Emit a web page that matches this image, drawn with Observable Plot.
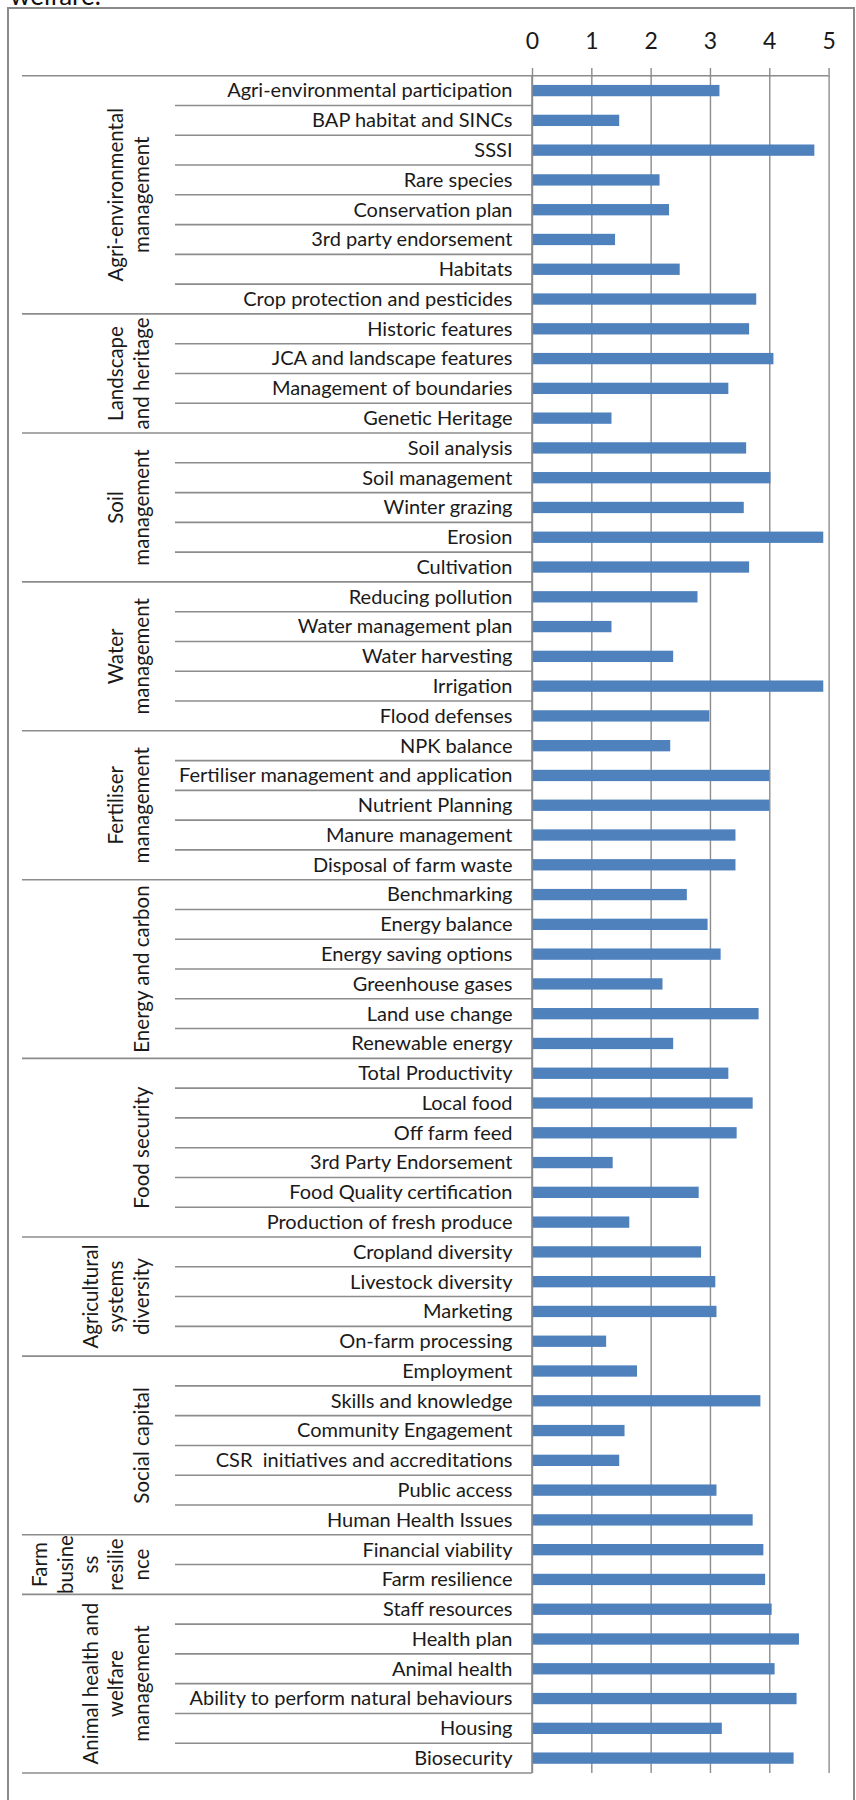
<!DOCTYPE html>
<html>
<head>
<meta charset="utf-8">
<script src="https://cdn.jsdelivr.net/npm/d3@7"></script>
<script src="https://cdn.jsdelivr.net/npm/@observablehq/plot@0.6"></script>
<style>
html, body { margin: 0; padding: 0; background: #fff; overflow: hidden; }
#page { position: relative; width: 856px; height: 1800px; overflow: hidden; }
#lead { position: absolute; left: 10px; top: -18px; font: 26px Lato, sans-serif; line-height: 26px; color: #111; white-space: nowrap; }
#frame { position: absolute; left: 7px; top: 7px; width: 848px; height: 1900px; border: 2.5px solid #8a8a8a; box-sizing: border-box; }
#chart { position: absolute; left: 0; top: 0; }
</style>
</head>
<body>
<div id="page">
  <div id="lead">welfare.</div>
  <div id="frame"></div>
  <div id="chart"></div>
</div>
<script>
// ---- data ----
const groupLabels = [
  ["Agri-environmental", "management"],
  ["Landscape", "and heritage"],
  ["Soil", "management"],
  ["Water", "management"],
  ["Fertiliser", "management"],
  ["Energy and carbon"],
  ["Food security"],
  ["Agricultural", "systems", "diversity"],
  ["Social capital"],
  ["Farm", "busine", "ss", "resilie", "nce"],
  ["Animal health and", "welfare", "management"]
];
const groupSizes = [8, 4, 5, 5, 5, 6, 6, 4, 6, 2, 6];

const items = [
  "Agri-environmental participation", "BAP habitat and SINCs", "SSSI", "Rare species",
  "Conservation plan", "3rd party endorsement", "Habitats", "Crop protection and pesticides",
  "Historic features", "JCA and landscape features", "Management of boundaries", "Genetic Heritage",
  "Soil analysis", "Soil management", "Winter grazing", "Erosion", "Cultivation",
  "Reducing pollution", "Water management plan", "Water harvesting", "Irrigation", "Flood defenses",
  "NPK balance", "Fertiliser management and application", "Nutrient Planning", "Manure management", "Disposal of farm waste",
  "Benchmarking", "Energy balance", "Energy saving options", "Greenhouse gases", "Land use change", "Renewable energy",
  "Total Productivity", "Local food", "Off farm feed", "3rd Party Endorsement", "Food Quality certification", "Production of fresh produce",
  "Cropland diversity", "Livestock diversity", "Marketing", "On-farm processing",
  "Employment", "Skills and knowledge", "Community Engagement", "CSR  initiatives and accreditations", "Public access", "Human Health Issues",
  "Financial viability", "Farm resilience",
  "Staff resources", "Health plan", "Animal health", "Ability to perform natural behaviours", "Housing", "Biosecurity"
];
const values = [
  3.16, 1.47, 4.76, 2.15, 2.31, 1.40, 2.49, 3.78,
  3.66, 4.07, 3.31, 1.34,
  3.61, 4.02, 3.57, 4.91, 3.66,
  2.79, 1.34, 2.38, 4.91, 2.99,
  2.33, 4.00, 4.00, 3.43, 3.43,
  2.61, 2.96, 3.18, 2.20, 3.82, 2.38,
  3.31, 3.72, 3.45, 1.36, 2.81, 1.64,
  2.85, 3.09, 3.11, 1.25,
  1.77, 3.85, 1.56, 1.47, 3.11, 3.72,
  3.90, 3.93,
  4.04, 4.50, 4.09, 4.46, 3.20, 4.41
];
const xTicks = [0, 1, 2, 3, 4, 5];

// ---- build ----
const rows = items.map((name, i) => ({name, value: values[i]}));
const FONT = "Lato, 'Open Sans', sans-serif";
const LINE = "#8c8c8c";
const PAD = 0.62;

const plot = Plot.plot({
  width: 856,
  height: 1800,
  marginLeft: 532,
  marginRight: 27.4,
  marginTop: 75.7,
  marginBottom: 27,
  style: {fontFamily: FONT, background: "transparent", color: "#1a1a1a", overflow: "visible"},
  x: {domain: [0, 5], axis: null, label: null},
  y: {domain: items, paddingInner: PAD, paddingOuter: PAD / 2, axis: null, label: null},
  marks: [
    Plot.gridX(xTicks, {stroke: LINE, strokeOpacity: 1, strokeWidth: 1.4}),
    Plot.axisX(xTicks, {anchor: "top", label: null, tickSize: 8.7, tickPadding: 18, fontSize: 23,
      stroke: LINE, strokeOpacity: 1, strokeWidth: 1.4, fill: "#1a1a1a", tickFormat: d => String(d)}),
    Plot.barX(rows, {x: "value", y: "name", fill: "#4F81BD"}),
    Plot.axisY({anchor: "left", label: null, tickSize: 0, tickPadding: 20, fontSize: 20, fill: "#1a1a1a"})
  ]
});

document.getElementById("chart").appendChild(plot);

// ---- multi-level category furniture, placed through the plot's scales ----
const ys = plot.scale("y");
const xs = plot.scale("x");
const step = ys.apply(items[1]) - ys.apply(items[0]);
const bw = ys.bandwidth != null ? ys.bandwidth : step * (1 - PAD);
const rowTop = i => ys.apply(items[i]) - (step - bw) / 2;
const rowBottom = i => rowTop(i) + step;
const x0 = xs.apply(0);
const x5 = xs.apply(5);
const groupX1 = x0 - 510;   // outer (group) separator start
const itemX1 = x0 - 357;    // inner (item) separator start
const lastBaseline = x0 - 383.5;
const linePitch = 25.3;

const svg = d3.select(plot);
const g = svg.append("g").attr("stroke", LINE).attr("stroke-width", 1.6).attr("fill", "none");

// value-axis line along the top of the plot
g.append("line").attr("x1", x0).attr("x2", x5).attr("y1", rowTop(0)).attr("y2", rowTop(0)).attr("stroke-width", 1.4);
// category axis line
g.append("line").attr("x1", x0).attr("x2", x0).attr("y1", rowTop(0)).attr("y2", rowBottom(items.length - 1));

let start = 0;
const groupInfo = [];
groupSizes.forEach((n, gi) => {
  const top = rowTop(start);
  const bottom = rowBottom(start + n - 1);
  groupInfo.push({top, bottom, lines: groupLabels[gi]});
  g.append("line").attr("x1", groupX1).attr("x2", x0).attr("y1", top).attr("y2", top);
  for (let k = 1; k < n; k++) {
    const yb = rowTop(start + k);
    g.append("line").attr("x1", itemX1).attr("x2", x0).attr("y1", yb).attr("y2", yb);
  }
  start += n;
});
g.append("line").attr("x1", groupX1).attr("x2", x0)
  .attr("y1", rowBottom(items.length - 1)).attr("y2", rowBottom(items.length - 1));

const tg = svg.append("g").attr("font-family", FONT).attr("font-size", 20.5).attr("fill", "#1a1a1a").attr("text-anchor", "middle");
groupInfo.forEach(({top, bottom, lines}) => {
  const cy = (top + bottom) / 2;
  const n = lines.length;
  lines.forEach((t, j) => {
    const bx = lastBaseline - (n - 1 - j) * linePitch;
    tg.append("text").attr("transform", `translate(${bx},${cy}) rotate(-90)`).text(t);
  });
});
</script>
</body>
</html>
